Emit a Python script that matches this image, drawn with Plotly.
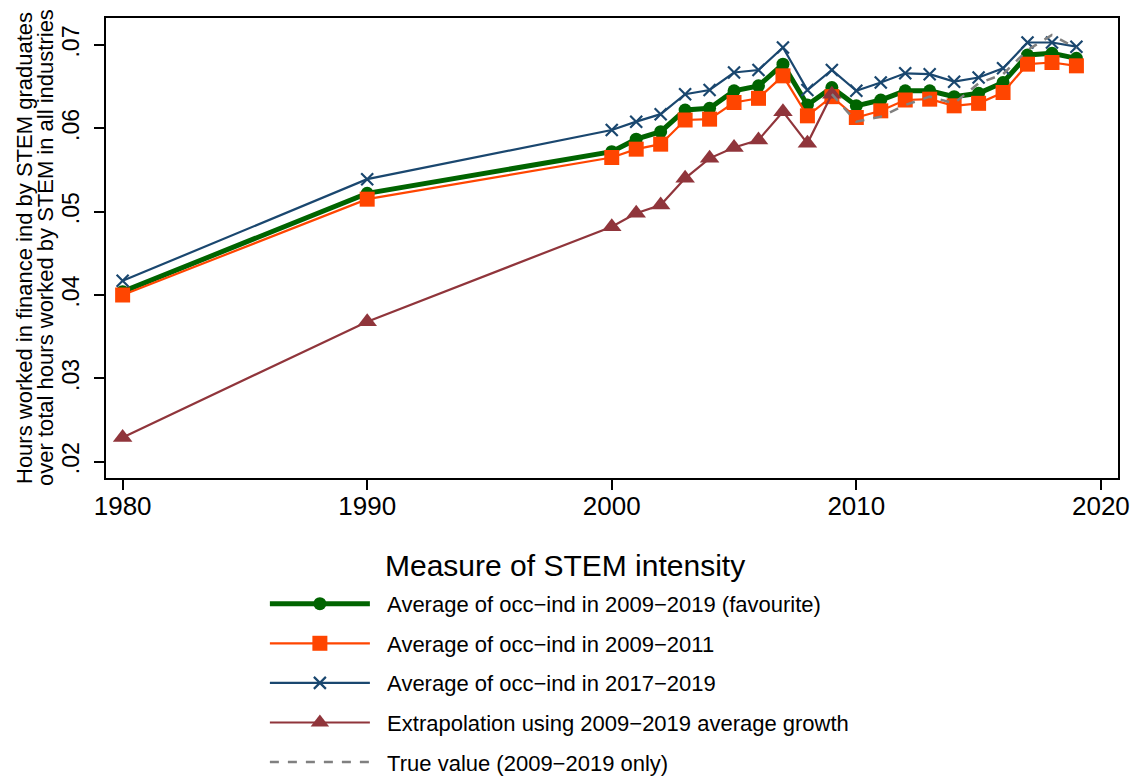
import plotly.graph_objects as go

years = [1980, 1990, 2000, 2001, 2002, 2003, 2004, 2005, 2006, 2007, 2008,
         2009, 2010, 2011, 2012, 2013, 2014, 2015, 2016, 2017, 2018, 2019]

fav = [0.0404, 0.0522, 0.0572, 0.0587, 0.0596, 0.0622, 0.0624, 0.0645, 0.0651, 0.0677, 0.0628,
       0.0649, 0.0627, 0.0634, 0.0645, 0.0645, 0.0638, 0.0642, 0.0655, 0.0688, 0.0690, 0.0684]
avg0911 = [0.0400, 0.0515, 0.0565, 0.0575, 0.0581, 0.0610, 0.0611, 0.0631, 0.0636, 0.0663, 0.0615,
           0.0638, 0.0613, 0.0621, 0.0634, 0.0635, 0.0627, 0.0630, 0.0643, 0.0677, 0.0679, 0.0675]
avg1719 = [0.0417, 0.0539, 0.0598, 0.0608, 0.0617, 0.0641, 0.0646, 0.0667, 0.0670, 0.0697, 0.0646,
           0.0670, 0.0645, 0.0655, 0.0666, 0.0665, 0.0656, 0.0661, 0.0672, 0.0703, 0.0703, 0.0698]

years_extrap = [1980, 1990, 2000, 2001, 2002, 2003, 2004, 2005, 2006, 2007, 2008, 2009]
extrap = [0.0229, 0.0368, 0.0482, 0.0498, 0.0508, 0.0540, 0.0564, 0.0577, 0.0586, 0.0620, 0.0582, 0.0641]

years_true = [2009, 2010, 2011, 2012, 2013, 2014, 2015, 2016, 2017, 2018, 2019]
true_val = [0.0641, 0.0608, 0.0614, 0.0628, 0.0638, 0.0630, 0.0654, 0.0665, 0.0694, 0.0712, 0.0696]

names = ["Average of occ−ind in 2009−2019 (favourite)",
         "Average of occ−ind in 2009−2011",
         "Average of occ−ind in 2017−2019",
         "Extrapolation using 2009−2019 average growth",
         "True value (2009−2019 only)"]
legend_title = "Measure of STEM intensity"

ytitle_lines = ["Hours worked in finance ind by STEM graduates",
                "over total hours worked by STEM in all industries"]

ytick_vals = [0.02, 0.03, 0.04, 0.05, 0.06, 0.07]
ytick_text = [".02", ".03", ".04", ".05", ".06", ".07"]
xtick_vals = [1980, 1990, 2000, 2010, 2020]
xtick_text = ["1980", "1990", "2000", "2010", "2020"]

FONT = "Liberation Sans, Arial, sans-serif"
PAD = "\u00a0\u00a0"

fig = go.Figure()
fig.add_trace(go.Scatter(x=years, y=fav, name=PAD + names[0], mode="lines+markers",
                         line=dict(color="#006400", width=5),
                         marker=dict(symbol="circle", size=13, color="#006400"),
                         legendgroup="a"))
fig.add_trace(go.Scatter(x=years, y=avg0911, name=PAD + names[1], mode="lines+markers",
                         line=dict(color="#FF4500", width=2.2),
                         marker=dict(symbol="square", size=15, color="#FF4500"),
                         legendgroup="b"))
fig.add_trace(go.Scatter(x=years, y=avg1719, name=PAD + names[2], mode="lines+markers",
                         line=dict(color="#1A476F", width=2.2),
                         marker=dict(symbol="x-thin-open", size=12, color="#1A476F",
                                     line=dict(color="#1A476F", width=2.2)),
                         legendgroup="c"))
fig.add_trace(go.Scatter(x=years_extrap, y=extrap, name=PAD + names[3], mode="lines+markers",
                         line=dict(color="#90353B", width=2.2),
                         marker=dict(symbol="triangle-up", size=17, color="#90353B"),
                         legendgroup="d"))
fig.add_trace(go.Scatter(x=years_true, y=true_val, name=PAD + names[4], mode="lines",
                         line=dict(color="#808080", width=2.5, dash="dash"),
                         legendgroup="e"))

fig.update_layout(
    width=1135, height=776,
    margin=dict(l=106, r=17, t=18, b=298, autoexpand=False),
    paper_bgcolor="white", plot_bgcolor="white",
    font=dict(family=FONT, color="black"),
    showlegend=True,
    legend=dict(
        x=0.157, y=-0.228, xanchor="left", yanchor="top",
        font=dict(size=22),
        traceorder="grouped", tracegroupgap=8,
        itemwidth=100,
        bgcolor="rgba(0,0,0,0)",
    ),
    annotations=[
        dict(text=ytitle_lines[0], xref="paper", yref="paper", x=0, y=0.5,
             xanchor="center", yanchor="middle", xshift=-82, textangle=-90,
             showarrow=False, font=dict(size=22)),
        dict(text=ytitle_lines[1], xref="paper", yref="paper", x=0, y=0.5,
             xanchor="center", yanchor="middle", xshift=-61, textangle=-90,
             showarrow=False, font=dict(size=22)),
        dict(text=legend_title, xref="paper", yref="paper", x=0.4536, y=-0.1913,
             xanchor="center", yanchor="middle", showarrow=False, font=dict(size=30)),
    ],
)
fig.update_xaxes(range=[1979.32, 2020.7], tickvals=xtick_vals, ticktext=xtick_text,
                 ticks="outside", ticklen=10, tickwidth=1.5, tickcolor="black",
                 tickfont=dict(size=26), ticklabelstandoff=-6,
                 showgrid=False, zeroline=False,
                 showline=True, linecolor="black", linewidth=2, mirror=True)
fig.update_yaxes(range=[0.01804, 0.07324], tickvals=ytick_vals, ticktext=ytick_text,
                 ticks="outside", ticklen=10, tickwidth=1.5, tickcolor="black",
                 tickfont=dict(size=23), tickangle=-90, ticklabelstandoff=6,
                 showgrid=False, zeroline=False,
                 showline=True, linecolor="black", linewidth=2, mirror=True)

fig.write_html("out.html", config={"displayModeBar": False},
               post_script="document.body.style.margin='0';document.body.style.padding='0';document.body.style.overflow='hidden';")
